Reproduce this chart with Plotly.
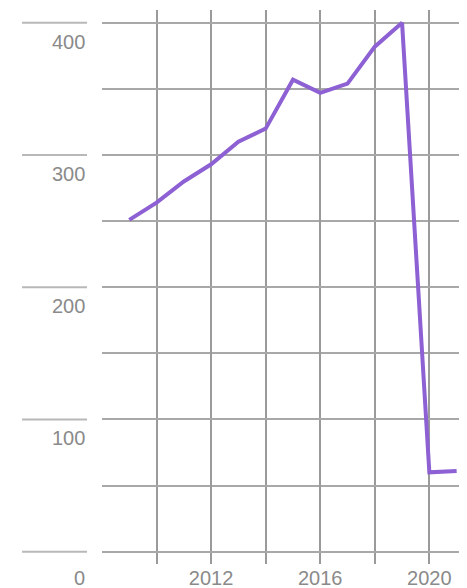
import plotly.graph_objects as go

years = [2009, 2010, 2011, 2012, 2013, 2014, 2015, 2016, 2017, 2018, 2019, 2020, 2021]
values = [251, 264, 280, 293, 310, 320, 357, 347, 354, 382, 400, 60, 61]
y_ticks = [0, 100, 200, 300, 400]
x_ticks = [2012, 2016, 2020]

FONT = dict(family="Liberation Sans, Arial, sans-serif", size=20, color="#8a8a8a")

fig = go.Figure()
fig.add_trace(go.Scatter(
    x=years, y=values, mode="lines",
    line=dict(color="#8d60d3", width=4),
    hoverinfo="skip", showlegend=False,
))

# left-side label rules and labels (outside plot area)
for v in y_ticks:
    fig.add_shape(type="line", xref="paper", yref="y",
                  x0=-0.219, x1=-0.041, y0=v, y1=v,
                  line=dict(color="#b8b8b8", width=2), layer="below")
    fig.add_annotation(xref="paper", yref="y", x=-0.041, y=v,
                       text=str(v), showarrow=False, xanchor="right",
                       yanchor="middle", yshift=-26 if v == 0 else -19,
                       font=FONT)

fig.update_xaxes(
    range=[2008, 2021.38],
    tickvals=x_ticks, ticktext=[str(t) for t in x_ticks],
    showgrid=True, gridcolor="#9a9a9a", gridwidth=1.5,
    minor=dict(dtick=2, tick0=2010, showgrid=True, gridcolor="#9a9a9a", gridwidth=1.5),
    zeroline=False, showline=False, ticks="",
    tickfont=FONT,
    ticklabelstandoff=0,
)
fig.update_yaxes(
    range=[-9.3, 409.7],
    tickvals=y_ticks, showticklabels=False,
    showgrid=True, gridcolor="#a8a8a8", gridwidth=2,
    minor=dict(dtick=50, tick0=0, showgrid=True, gridcolor="#a8a8a8", gridwidth=2),
    zeroline=False, showline=False, ticks="",
)
fig.update_layout(
    width=459, height=580,
    margin=dict(l=94, r=0, t=2, b=24),
    paper_bgcolor="white", plot_bgcolor="white",
)
fig.write_html("out.html")
